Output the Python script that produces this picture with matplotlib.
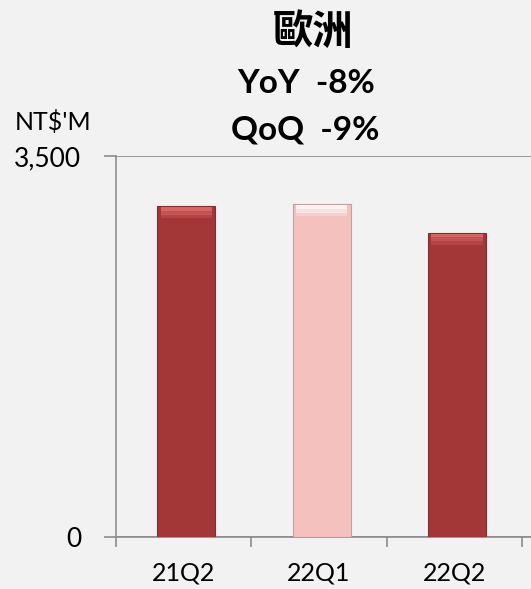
import matplotlib
matplotlib.use("Agg")
import numpy as np
import matplotlib.pyplot as plt

# data
quarters = ["21Q2", "22Q1", "22Q2"]
revenue = [3040, 3055, 2795]
bar_colors = ["#A33636", "#F4C1BF", "#A33636"]
top_colors = ["#E4716F", "#FFFFFF", "#E4716F"]
edge_colors = ["#7E3030", "#BFA0A0", "#7E3030"]
title_lines = ["歐洲", "YoY  -8%", "QoQ  -9%"]
y_ticks = [0, 3500]
y_tick_labels = ["0", "3,500"]

bg = "#F2F2F2"
axis_gray = "#8C8C8C"
plt.rcParams['font.family'] = ['Lato', 'Noto Sans CJK TC', 'DejaVu Sans']

fig = plt.figure(figsize=(5.31, 5.89), dpi=100, facecolor=bg)
ax = fig.add_axes([116 / 531, 52 / 589, 415 / 531, 381 / 589], facecolor=bg)

x = np.arange(len(quarters)) + 0.02
ax.bar(x, revenue, width=0.43, color=bar_colors, edgecolor=edge_colors, linewidth=0.8, zorder=3)
# bevel highlight along the top of each bar
for frac, a in [(0.0, 0.8), (35, 0.5), (65, 0.25)]:
    ax.bar(x, [35] * len(x), width=0.38, bottom=[v - 35 - frac - 8 for v in revenue],
           color=top_colors, alpha=a, linewidth=0, zorder=4)

ax.set_xlim(-0.5, 2.566)
ax.set_ylim(0, 3500)
ax.set_yticks(y_ticks, labels=y_tick_labels)
ax.set_xticks(x - 0.02, labels=quarters)
ax.set_xticks([-0.5, 0.5, 1.5, 2.5], minor=True)
ax.tick_params(axis="x", which="major", length=0, pad=18, labelsize=18)
ax.tick_params(axis="x", which="minor", length=7, color=axis_gray, width=1.2)
ax.tick_params(axis="y", length=9, color=axis_gray, width=1.2, labelsize=19, pad=16)
ax.yaxis.grid(True, color=axis_gray, linewidth=1.2, zorder=1)
for side in ["top", "right"]:
    ax.spines[side].set_visible(False)
for side in ["left", "bottom"]:
    ax.spines[side].set_color(axis_gray)
    ax.spines[side].set_linewidth(1.2)

fig.text(15 / 531, 1 - 130 / 589, "NT$'M", fontsize=18, ha="left", va="baseline")
fig.text(313 / 531, 1 - 32 / 589, title_lines[0], fontsize=29, fontweight="bold",
         ha="center", va="center", family=['Noto Sans CJK TC'])
fig.text(306 / 531, 1 - 93 / 589, title_lines[1], fontsize=24, fontweight="bold",
         ha="center", va="baseline")
fig.text(305 / 531, 1 - 140 / 589, title_lines[2], fontsize=24, fontweight="bold",
         ha="center", va="baseline")

fig.savefig("out.png", dpi=100, facecolor=bg)
